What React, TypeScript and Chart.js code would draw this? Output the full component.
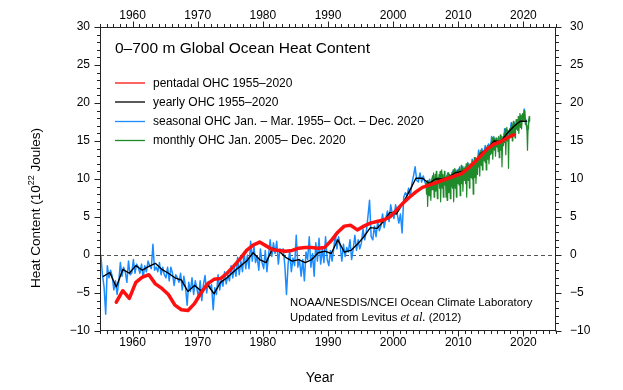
import React, { useEffect, useRef } from 'react';
import { Chart, registerables } from 'chart.js';

Chart.register(...registerables);

// ---------------- data ----------------
const chartTitle = '0\u2013700 m Global Ocean Heat Content';
const xAxisTitle = 'Year';
const noteLine1 = 'NOAA/NESDIS/NCEI Ocean Climate Laboratory';
const noteLine2a = 'Updated from Levitus ';
const noteLine2b = 'et al.';
const noteLine2c = ' (2012)';

const xMin = 1955;
const xMax = 2025;
const yMin = -10;
const yMax = 30;
const xTickYears = [1960, 1970, 1980, 1990, 2000, 2010, 2020];
const yTickValues = [-10, -5, 0, 5, 10, 15, 20, 25, 30];
const zeroLineValue = 0;

const seriesLabels = [
  'pentadal OHC 1955\u20132020',
  'yearly OHC 1955\u20132020',
  'seasonal OHC Jan. \u2013 Mar. 1955\u2013 Oct. \u2013 Dec. 2020',
  'monthly OHC Jan. 2005\u2013 Dec. 2020',
];
const seriesColors = ['#ff1010', '#000000', '#1a8cff', '#1f8a2a'];

// pentadal means, centred 1957.5 ... 2018.5
const pentadalStart = 1957.5;
const pentadalOHC = [
  -6.2, -4.7, -5.7, -3.6, -2.9, -2.6, -3.8, -4.4, -5.2, -6.6, -7.2, -7.3, -6.4, -5.0, -3.8, -3.2, -3.1, -2.4, -1.5,
  -0.5, 0.6, 1.3, 1.7, 1.2, 0.7, 0.6, 0.5, 0.6, 0.9, 1.0, 1.0, 0.9, 1.0, 1.9,
  3.0, 3.8, 3.9, 3.3, 3.8, 4.2, 4.4, 4.6, 5.0, 5.9, 6.8, 7.6, 8.3, 8.9, 9.2, 9.5, 9.8, 10.1, 10.4, 10.7, 11.4, 12.2,
  13.1, 14.0, 14.6, 14.9, 15.4, 15.8,
];

// yearly means 1955 ... 2020
const yearlyStart = 1955;
const yearlyOHC = [
  -2.8, -2.3, -4.2, -1.9, -2.4, -1.4, -2.0, -1.5, -1.1, -1.9,
  -2.4, -3.0, -3.3, -4.8, -4.0, -4.7, -3.9, -5.1, -3.6, -3.0,
  -2.2, -1.5, -0.8, 0.3, -0.6, -1.0, 0.9, 0.5, -0.3, -0.8,
  -0.6, -1.0, -0.6, 0.3, 0.5, 0.2, 2.0, 0.4, 0.6, 1.4,
  2.4, 3.6, 3.5, 4.4, 5.6, 5.4, 6.8, 8.4, 10.1, 10.1,
  9.4, 10.0, 10.0, 10.2, 10.8, 11.0, 11.3, 12.2, 13.4, 14.0,
  15.0, 14.9, 16.0, 16.9, 17.6, 17.6,
];

// seasonal (3-month) values, Jan-Mar 1955 ... Oct-Dec 2020
const seasonalStart = 1955;
const seasonalOHC = [
  0.0, -2.6, -4.2, -7.8, -1.4, -3.0, -2.0, -2.8, -4.6, -3.4, -5.2, -3.6,
  -1.0, -2.8, -1.6, -2.2, -3.6, -0.8, -2.6, -2.4, -0.6, -2.4, -1.2, -1.6,
  -2.4, -1.2, -3.0, -1.4, -2.2, -0.8, -1.4, -1.8, 1.4, -2.0, -1.6, -2.2,
  -1.0, -2.6, -1.6, -2.6, -3.0, -1.6, -3.4, -1.6, -2.4, -4.0, -2.6, -3.0,
  -3.6, -2.4, -4.6, -2.8, -4.2, -6.6, -3.6, -4.8, -3.0, -5.2, -3.4, -4.4,
  -5.6, -3.4, -6.0, -3.9, -2.7, -5.0, -3.5, -4.4, -3.9, -7.2, -4.3, -5.2,
  -2.6, -4.6, -3.1, -4.1, -2.2, -3.8, -2.6, -3.4, -1.4, -3.0, -1.6, -2.8,
  -0.3, -2.6, -0.8, -2.2, 0.4, -1.8, 0.0, -1.8, 1.8, -0.8, 1.2, -1.0,
  -0.2, -2.0, 0.8, -1.0, -1.8, 0.6, -2.2, 0.0, 2.0, -0.2, 1.6, 0.2,
  1.8, -1.2, 0.8, 0.6, 0.8, -1.4, -5.2, -1.2, 0.6, -2.2, -0.4, -1.4,
  2.6, -1.6, -0.6, -2.8, -0.6, -3.4, 0.4, -0.6, 2.4, -1.6, 0.2, -2.8,
  1.6, -0.8, 2.2, -1.2, 0.8, -1.0, 2.4, -0.6, -1.4, 0.6, -0.8, 0.8,
  2.8, 0.8, 2.4, 1.2, -0.8, 1.4, -0.2, 1.0, 0.4, 2.0, -0.6, 0.8,
  2.6, 0.6, 2.0, 0.8, 1.6, 3.4, 2.0, 3.0, 5.0, 7.2, 2.4, 2.0,
  3.8, 2.4, 4.4, 3.2, 3.8, 5.4, 3.6, 4.8, 5.8, 4.4, 6.6, 5.4,
  4.8, 6.6, 5.4, 4.2, 5.4, 2.9, 7.6, 8.2, 7.8, 8.8, 7.6, 9.4,
  10.4, 11.6, 9.8, 9.6, 10.8, 9.6, 10.4, 9.6, 9.0, 9.8, 9.0, 9.8,
  10.4, 9.6, 10.6, 9.4, 10.0, 10.8, 9.4, 10.4, 9.6, 10.8, 9.8, 10.4,
  11.0, 10.2, 11.2, 10.6, 11.4, 10.6, 11.6, 10.6, 11.6, 10.8, 12.0, 10.8,
  12.6, 11.6, 12.8, 11.8, 13.8, 12.8, 14.0, 13.0, 14.4, 13.4, 14.6, 13.6,
  15.6, 14.4, 15.4, 14.6, 15.4, 14.2, 15.6, 14.4, 16.6, 15.4, 16.4, 15.6,
  17.4, 16.2, 17.4, 16.6, 17.8, 17.0, 18.4, 17.6, 19.2, 17.4, 16.4, 17.8,
];

// monthly values Jan 2005 ... Dec 2020
const monthlyStart = 2005;
const monthlyOHC = [
  9.4, 8.0, 9.8, 6.4, 8.6, 9.6, 7.8, 10.0, 8.4, 7.2, 9.6, 8.6,
  10.4, 8.6, 10.8, 7.6, 9.6, 10.6, 8.4, 11.0, 9.2, 7.4, 10.2, 9.4,
  10.6, 8.8, 11.0, 7.0, 9.8, 11.2, 8.8, 10.6, 7.6, 9.6, 11.0, 9.2,
  9.8, 7.6, 10.4, 7.2, 9.6, 10.8, 8.2, 10.6, 8.8, 7.4, 10.2, 9.0,
  10.8, 8.8, 11.2, 7.0, 10.2, 11.4, 8.8, 11.0, 7.6, 10.0, 11.2, 9.4,
  11.2, 9.2, 11.6, 7.8, 10.4, 11.8, 9.4, 11.4, 8.4, 10.2, 11.6, 9.8,
  11.4, 9.4, 12.0, 7.6, 10.8, 12.2, 9.8, 11.8, 8.8, 10.6, 12.0, 10.2,
  12.0, 10.0, 12.4, 8.0, 11.2, 12.8, 10.2, 12.2, 9.4, 11.0, 12.6, 10.6,
  12.8, 11.6, 13.4, 10.4, 12.6, 13.8, 11.8, 13.2, 11.2, 12.4, 13.6, 12.4,
  13.6, 12.2, 14.2, 11.2, 13.4, 14.4, 12.6, 14.0, 12.0, 13.2, 14.6, 13.2,
  14.8, 13.4, 15.4, 12.6, 14.4, 15.6, 13.8, 15.2, 13.0, 14.6, 15.4, 14.2,
  15.0, 13.6, 15.6, 12.8, 14.6, 15.8, 13.8, 15.2, 11.6, 14.4, 15.6, 14.4,
  16.0, 14.8, 16.6, 13.2, 15.6, 16.8, 15.0, 16.4, 11.4, 15.4, 16.6, 15.6,
  16.8, 15.6, 17.4, 15.0, 16.6, 17.6, 15.8, 17.2, 15.4, 16.6, 17.8, 16.6,
  17.6, 16.4, 18.2, 16.0, 17.4, 18.6, 16.8, 18.4, 16.6, 17.6, 18.6, 17.8,
  18.4, 19.0, 18.2, 17.2, 17.8, 17.0, 16.4, 13.8, 16.6, 17.6, 18.2, 17.6,
];

// ---------------- drawing helpers ----------------
const SANS = '"Liberation Sans", Arial, Helvetica, sans-serif';
const SERIF = '"Liberation Serif", "Times New Roman", serif';
const fmtNum = (v: number) => (v < 0 ? '\u2212' + Math.abs(v) : String(v));

const overlayPlugin = {
  id: 'ohcOverlay',
  beforeDatasetsDraw(chart: any) {
    const { ctx, chartArea: a, scales } = chart;
    const py = Math.round(scales.y.getPixelForValue(zeroLineValue)) + 0.5;
    ctx.save();
    ctx.strokeStyle = '#555';
    ctx.lineWidth = 1;
    ctx.setLineDash([4, 3]);
    ctx.beginPath();
    ctx.moveTo(a.left, py);
    ctx.lineTo(a.right, py);
    ctx.stroke();
    ctx.restore();
  },
  afterDraw(chart: any) {
    const { ctx, chartArea: a, scales } = chart;
    ctx.save();
    // frame
    ctx.strokeStyle = '#222';
    ctx.lineWidth = 1;
    const L = Math.round(a.left) + 0.5;
    const R = Math.round(a.right) - 0.5;
    const T = Math.round(a.top) + 0.5;
    const B = Math.round(a.bottom) - 0.5;
    ctx.strokeRect(L, T, R - L, B - T);
    // ticks
    ctx.beginPath();
    for (let yr = xMin; yr <= xMax; yr++) {
      const px = Math.round(scales.x.getPixelForValue(yr)) + 0.5;
      const len = yr % 10 === 0 ? 6 : 3.5;
      ctx.moveTo(px, B);
      ctx.lineTo(px, B + len);
      ctx.moveTo(px, T);
      ctx.lineTo(px, T - len);
    }
    for (let v = yMin; v <= yMax; v++) {
      const py = Math.round(scales.y.getPixelForValue(v)) + 0.5;
      const len = v % 5 === 0 ? 6 : 3.5;
      ctx.moveTo(L, py);
      ctx.lineTo(L - len, py);
      ctx.moveTo(R, py);
      ctx.lineTo(R + len, py);
    }
    ctx.stroke();

    // title
    ctx.fillStyle = '#000';
    ctx.textBaseline = 'alphabetic';
    ctx.textAlign = 'left';
    ctx.font = `15.5px ${SANS}`;
    ctx.fillText(chartTitle, a.left + 15, 53);

    // legend
    const rows = [83, 102, 121.5, 140.5];
    ctx.font = `12px ${SANS}`;
    ctx.textBaseline = 'middle';
    chart.data.datasets.forEach((ds: any) => {
      const i = ds.legendIndex;
      const yy = rows[i];
      ctx.strokeStyle = ds.borderColor;
      ctx.lineWidth = 1.3;
      ctx.beginPath();
      ctx.moveTo(a.left + 15, yy);
      ctx.lineTo(a.left + 45, yy);
      ctx.stroke();
      ctx.fillStyle = '#000';
      ctx.fillText(ds.label, a.left + 53, yy + 0.5);
    });

    // source note
    ctx.textBaseline = 'alphabetic';
    ctx.font = `11.3px ${SANS}`;
    ctx.fillText(noteLine1, 290, 305.5);
    let xx = 290;
    ctx.fillText(noteLine2a, xx, 321);
    xx += ctx.measureText(noteLine2a).width;
    ctx.font = `italic 12.5px ${SERIF}`;
    ctx.fillText(noteLine2b, xx, 321);
    xx += ctx.measureText(noteLine2b).width;
    ctx.font = `11.3px ${SANS}`;
    ctx.fillText(noteLine2c, xx, 321);

    // x axis title
    ctx.font = `14px ${SANS}`;
    ctx.textAlign = 'center';
    ctx.textBaseline = 'middle';
    ctx.fillText(xAxisTitle, 320, 378);

    // y axis title with superscript
    ctx.translate(35, 208);
    ctx.rotate(-Math.PI / 2);
    const p1 = 'Heat Content (10';
    const p2 = '22';
    const p3 = ' Joules)';
    ctx.textAlign = 'left';
    ctx.textBaseline = 'alphabetic';
    ctx.font = `13.5px ${SANS}`;
    const w1 = ctx.measureText(p1).width;
    const w3 = ctx.measureText(p3).width;
    ctx.font = `9px ${SANS}`;
    const w2 = ctx.measureText(p2).width;
    let sx = -(w1 + w2 + w3) / 2;
    ctx.font = `13.5px ${SANS}`;
    ctx.fillText(p1, sx, 5);
    sx += w1;
    ctx.font = `9px ${SANS}`;
    ctx.fillText(p2, sx, -1);
    sx += w2;
    ctx.font = `13.5px ${SANS}`;
    ctx.fillText(p3, sx, 5);
    ctx.restore();
  },
};

function axisX(position: 'top' | 'bottom', size: number, pad: number) {
  return {
    type: 'linear' as const,
    position,
    min: xMin,
    max: xMax,
    afterBuildTicks: (s: any) => {
      s.ticks = xTickYears.map((v) => ({ value: v }));
    },
    afterFit: (s: any) => {
      s.height = size;
    },
    ticks: {
      callback: (v: any) => String(v),
      color: '#000',
      font: { family: SANS, size: 12 },
      padding: pad,
      maxRotation: 0,
      autoSkip: false,
    },
    grid: { display: false, drawTicks: false },
    border: { display: false },
  };
}

function axisY(position: 'left' | 'right', size: number, pad: number) {
  return {
    type: 'linear' as const,
    position,
    min: yMin,
    max: yMax,
    afterBuildTicks: (s: any) => {
      s.ticks = yTickValues.map((v) => ({ value: v }));
    },
    afterFit: (s: any) => {
      s.width = size;
    },
    ticks: {
      callback: (v: any) => fmtNum(v),
      color: '#000',
      font: { family: SANS, size: 12 },
      padding: pad,
      autoSkip: false,
    },
    grid: { display: false, drawTicks: false },
    border: { display: false },
  };
}

export default function App() {
  const ref = useRef<HTMLCanvasElement | null>(null);

  useEffect(() => {
    document.body.style.margin = '0';
    const canvas = ref.current;
    if (!canvas) return;

    const pentadal = pentadalOHC.map((v, i) => ({ x: pentadalStart + i, y: v }));
    const yearly = yearlyOHC.map((v, i) => ({ x: yearlyStart + i + 0.5, y: v }));
    const seasonal = seasonalOHC.map((v, i) => ({ x: seasonalStart + i / 4 + 0.125, y: v }));
    const monthly = monthlyOHC.map((v, i) => ({ x: monthlyStart + (i + 0.5) / 12, y: v }));

    const chart = new Chart(canvas, {
      type: 'line',
      data: {
        datasets: [
          { label: seriesLabels[0], legendIndex: 0, data: pentadal, borderColor: seriesColors[0], borderWidth: 3.5, order: 0 } as any,
          { label: seriesLabels[1], legendIndex: 1, data: yearly, borderColor: seriesColors[1], borderWidth: 1.4, order: 1 } as any,
          { label: seriesLabels[2], legendIndex: 2, data: seasonal, borderColor: seriesColors[2], borderWidth: 1.5, order: 3 } as any,
          { label: seriesLabels[3], legendIndex: 3, data: monthly, borderColor: seriesColors[3], borderWidth: 1.2, order: 2 } as any,
        ],
      },
      options: {
        responsive: false,
        animation: false,
        parsing: false,
        normalized: true,
        layout: { padding: 0 },
        elements: {
          point: { radius: 0, hoverRadius: 0 },
          line: { tension: 0, fill: false, borderJoinStyle: 'round', borderCapStyle: 'round' },
        },
        plugins: {
          legend: { display: false },
          tooltip: { enabled: false },
          title: { display: false },
        },
        events: [],
        scales: {
          x: { ...axisX('bottom', 59, 4) } as any,
          x2: { ...axisX('top', 27, 4) } as any,
          y: { ...axisY('left', 100, 10) } as any,
          y2: { ...axisY('right', 67, 14) } as any,
        },
      },
      plugins: [overlayPlugin],
    });

    return () => chart.destroy();
  }, []);

  return (
    <div style={{ width: 623, height: 390, background: '#fff' }}>
      <canvas ref={ref} width={623} height={390} style={{ width: 623, height: 390, display: 'block' }} />
    </div>
  );
}
